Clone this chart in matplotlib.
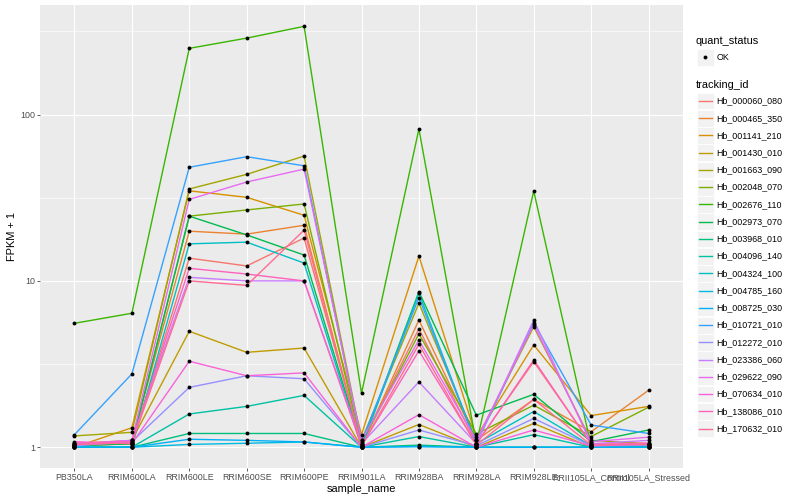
import numpy as np
import matplotlib
matplotlib.use("Agg")
import matplotlib.pyplot as plt
from matplotlib.patches import Rectangle
from matplotlib.lines import Line2D

plt.rcParams['font.family'] = ['Liberation Sans', 'DejaVu Sans']

samples = ["PB350LA", "RRIM600LA", "RRIM600LE", "RRIM600SE", "RRIM600PE",
           "RRIM901LA", "RRIM928BA", "RRIM928LA", "RRIM928LE",
           "RRII105LA_Control", "RRII105LA_Stressed"]

tracking_ids = ["Hb_000060_080", "Hb_000465_350", "Hb_001141_210", "Hb_001430_010",
                "Hb_001663_090", "Hb_002048_070", "Hb_002676_110", "Hb_002973_070",
                "Hb_003968_010", "Hb_004096_140", "Hb_004324_100", "Hb_004785_160",
                "Hb_008725_030", "Hb_010721_010", "Hb_012272_010", "Hb_023386_060",
                "Hb_029622_090", "Hb_070634_010", "Hb_138086_010", "Hb_170632_010"]

Hb_000060_080 = [1.02, 1.05, 13.7, 12.3, 18.1, 1.05, 5.16, 1.05, 3.27, 1.05, 1.03]
Hb_000465_350 = [1.03, 1.08, 19.9, 19.1, 21.6, 1.02, 5.82, 1.10, 1.94, 1.24, 2.20]
Hb_001141_210 = [1.00, 1.31, 34.8, 31.8, 24.8, 1.19, 14.1, 1.15, 4.12, 1.55, 1.76]
Hb_001430_010 = [1.05, 1.10, 4.98, 3.72, 3.95, 1.00, 1.37, 1.00, 1.39, 1.00, 1.02]
Hb_001663_090 = [1.17, 1.23, 35.7, 43.7, 56.3, 1.10, 7.34, 1.10, 5.30, 1.10, 1.05]
Hb_002048_070 = [1.03, 1.05, 24.5, 26.7, 29.0, 1.05, 4.80, 1.20, 1.79, 1.16, 1.74]
Hb_002676_110 = [5.56, 6.39, 250.0, 288.0, 339.0, 2.11, 81.8, 1.05, 34.7, 1.02, 1.00]
Hb_002973_070 = [1.02, 1.05, 24.5, 18.9, 14.3, 1.03, 8.61, 1.56, 2.08, 1.08, 1.27]
Hb_003968_010 = [1.00, 1.00, 1.21, 1.21, 1.21, 1.00, 1.03, 1.00, 1.00, 1.00, 1.00]
Hb_004096_140 = [1.00, 1.00, 1.585, 1.76, 2.05, 1.00, 1.16, 1.00, 1.19, 1.00, 1.00]
Hb_004324_100 = [1.00, 1.00, 16.7, 17.1, 12.8, 1.00, 8.42, 1.05, 1.64, 1.02, 1.00]
Hb_004785_160 = [1.00, 1.00, 1.04, 1.057, 1.076, 1.00, 1.01, 1.00, 1.00, 1.00, 1.00]
Hb_008725_030 = [1.00, 1.00, 1.117, 1.10, 1.076, 1.00, 1.01, 1.00, 1.00, 1.00, 1.00]
Hb_010721_010 = [1.19, 2.76, 48.2, 55.8, 49.2, 1.08, 7.93, 1.05, 5.60, 1.36, 1.21]
Hb_012272_010 = [1.02, 1.08, 2.29, 2.69, 2.58, 1.00, 1.27, 1.02, 1.49, 1.02, 1.03]
Hb_023386_060 = [1.03, 1.10, 10.5, 10.0, 10.0, 1.05, 2.47, 1.05, 5.82, 1.05, 1.10]
Hb_029622_090 = [1.05, 1.10, 30.9, 39.3, 47.0, 1.10, 4.41, 1.10, 5.45, 1.08, 1.15]
Hb_070634_010 = [1.08, 1.05, 3.29, 2.69, 2.80, 1.00, 1.57, 1.00, 1.27, 1.02, 1.05]
Hb_138086_010 = [1.06, 1.08, 11.9, 11.0, 10.0, 1.02, 3.80, 1.04, 3.35, 1.04, 1.06]
Hb_170632_010 = [1.04, 1.06, 10.0, 9.4, 20.2, 1.02, 4.16, 1.03, 1.94, 1.03, 1.04]

series = [Hb_000060_080, Hb_000465_350, Hb_001141_210, Hb_001430_010, Hb_001663_090,
          Hb_002048_070, Hb_002676_110, Hb_002973_070, Hb_003968_010, Hb_004096_140,
          Hb_004324_100, Hb_004785_160, Hb_008725_030, Hb_010721_010, Hb_012272_010,
          Hb_023386_060, Hb_029622_090, Hb_070634_010, Hb_138086_010, Hb_170632_010]

colors = ["#F8766D", "#EA8331", "#D89000", "#C09B00", "#A3A500", "#7CAE00", "#39B600",
          "#00BB4E", "#00BF7D", "#00C1A3", "#00BFC4", "#00BAE0", "#00B0F6", "#35A2FF",
          "#9590FF", "#C77CFF", "#E76BF3", "#FA62DB", "#FF62BC", "#FF6C91"]

W, H = 800, 500
fig = plt.figure(figsize=(8, 5), dpi=100)
fig.patch.set_facecolor("white")

def fx(x):
    return x / W

def fy(y):
    return 1 - y / H

pl, pr, pt, pb = 40, 683, 5.3, 468.3
ax = fig.add_axes([fx(pl), fy(pb), (pr - pl) / W, (pb - pt) / H])
ax.set_facecolor("#EBEBEB")
for s in ax.spines.values():
    s.set_visible(False)

x = np.arange(len(samples))
for vals, c in zip(series, colors):
    ax.plot(x, vals, color=c, lw=1.0, zorder=3)
for vals in series:
    ax.plot(x, vals, linestyle="none", marker="o", ms=2.8, color="black",
            markeredgewidth=0, zorder=4)

ax.set_yscale("log")
allv = np.log10(np.concatenate([np.array(v) for v in series]))
lo, hi = allv.min(), allv.max()
ex = 0.05 * (hi - lo)
ax.set_ylim(10 ** (lo - ex), 10 ** (hi + ex))
ax.set_xlim(-0.6, len(samples) - 0.4)

ax.set_yticks([1, 10, 100])
ax.set_yticklabels(["1", "10", "100"])
ax.set_yticks([10 ** 0.5, 10 ** 1.5, 10 ** 2.5], minor=True)
ax.yaxis.set_minor_formatter(matplotlib.ticker.NullFormatter())
ax.set_xticks(x)
ax.set_xticklabels(samples)
ax.tick_params(axis="both", which="major", length=2.0, width=0.55, color="#333333",
               labelcolor="#4D4D4D", labelsize=6.4, pad=1.6)
ax.tick_params(axis="y", which="minor", length=0)
ax.grid(True, which="major", color="white", lw=0.8, zorder=0)
ax.grid(True, which="minor", axis="y", color="white", lw=0.4, zorder=0)
ax.set_axisbelow(True)

fig.text(fx((pl + pr) / 2), fy(489), "sample_name", ha="center", va="center",
         fontsize=7.9, color="black")
fig.text(fx(12), fy((pt + pb) / 2), "FPKM + 1", ha="center", va="center",
         rotation=90, fontsize=7.9, color="black")

# legend: quant_status
fig.text(fx(696), fy(41), "quant_status", ha="left", va="center", fontsize=7.9)
fig.add_artist(Rectangle((fx(697), fy(65.5)), 16.5 / W, 16.5 / H,
                         transform=fig.transFigure, facecolor="#F2F2F2",
                         edgecolor="white", lw=0.5))
fig.add_artist(Line2D([fx(705.2)], [fy(57.2)], transform=fig.transFigure,
                      marker="o", ms=2.8, color="black", markeredgewidth=0,
                      linestyle="none"))
fig.text(fx(716.5), fy(57.2), "OK", ha="left", va="center", fontsize=6.4)

# legend: tracking_id
fig.text(fx(696), fy(85), "tracking_id", ha="left", va="center", fontsize=7.9)
for i, (name, c) in enumerate(zip(tracking_ids, colors)):
    cy = 101 + 17.24 * i
    fig.add_artist(Rectangle((fx(697), fy(cy + 8.4)), 16.8 / W, 16.8 / H,
                             transform=fig.transFigure, facecolor="#F2F2F2",
                             edgecolor="white", lw=0.6))
    fig.add_artist(Line2D([fx(698.8), fx(712)], [fy(cy), fy(cy)],
                          transform=fig.transFigure, color=c, lw=1.0))
    fig.text(fx(716.5), fy(cy), name, ha="left", va="center", fontsize=6.4)

fig.savefig("out.png", dpi=100)
